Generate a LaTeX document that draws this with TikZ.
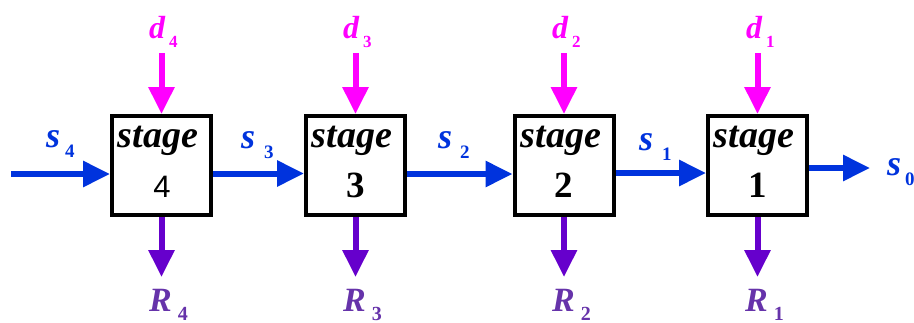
\documentclass[tikz,border=0pt]{standalone}
\usepackage{fontspec}
\setmainfont{Liberation Serif}
\newfontfamily\arialfont{Liberation Sans}
\usetikzlibrary{arrows.meta}
\definecolor{dcol}{HTML}{FF00FF}
\definecolor{scol}{HTML}{0033DD}
\definecolor{rarr}{HTML}{6600CC}
\definecolor{rtxt}{HTML}{6633AA}
\newcommand\lblsub[3]{\raisebox{#1}{\fontsize{#2}{#2}\selectfont\bfseries\upshape #3}}
\begin{document}
\begin{tikzpicture}[x=1pt,y=-1pt,
  stagebox/.style={draw=black,line width=4pt,minimum width=99pt,minimum height=99pt,inner sep=0pt,fill=white},
  flow/.style={line width=6pt,-{Triangle[length=27pt,width=25pt]}},
  darr/.style={flow,draw=dcol},
  sarr/.style={flow,draw=scol},
  rarrow/.style={flow,draw=rarr},
  stagetxt/.style={anchor=base,font=\fontsize{38}{38}\selectfont\bfseries\itshape},
  numtxt/.style={anchor=base,font=\fontsize{37}{37}\selectfont\bfseries},
  lbl/.style={anchor=base west,inner sep=0pt},
  dlbl/.style={lbl,text=dcol,font=\fontsize{32}{32}\selectfont\bfseries\itshape},
  slbl/.style={lbl,text=scol,font=\fontsize{36}{36}\selectfont\bfseries\itshape},
  rlbl/.style={lbl,text=rtxt,font=\fontsize{34}{34}\selectfont\bfseries\itshape}
]
\useasboundingbox (0,0) rectangle (914,322);
% boxes
\node[stagebox] (b4) at (161.5,165.5) {};
\node[stagebox] (b3) at (355.5,165.5) {};
\node[stagebox] (b2) at (564,165.5) {};
\node[stagebox] (b1) at (757.5,165.5) {};
% box texts
\node[stagetxt] (t4) at (158,147) {stage};
\node[stagetxt] (t3) at (352,147) {stage};
\node[stagetxt] (t2) at (561,147) {stage};
\node[stagetxt] (t1) at (754,147) {stage};
\node[anchor=base,font=\fontsize{31}{31}\selectfont\arialfont] (n4) at (162,197) {4};
\node[numtxt] (n3) at (356,197) {3};
\node[numtxt] (n2) at (564,197) {2};
\node[numtxt] (n1) at (757.5,197) {1};
% free ends
\coordinate (d4s) at (161.5,53);
\coordinate (d3s) at (355.5,53);
\coordinate (d2s) at (564,53);
\coordinate (d1s) at (757.5,53);
\coordinate (r4e) at (161.5,277);
\coordinate (r3e) at (355.5,277);
\coordinate (r2e) at (564,277);
\coordinate (r1e) at (757.5,277);
\coordinate (s4s) at (11,174);
\coordinate (s0e) at (870,168);
% d arrows
\draw[darr] (d4s) -- (b4.north);
\draw[darr] (d3s) -- (b3.north);
\draw[darr] (d2s) -- (b2.north);
\draw[darr] (d1s) -- (b1.north);
% R arrows
\draw[rarrow] (b4.south) -- (r4e);
\draw[rarrow] (b3.south) -- (r3e);
\draw[rarrow] (b2.south) -- (r2e);
\draw[rarrow] (b1.south) -- (r1e);
% s arrows
\draw[sarr] (s4s) -- ([yshift=-8.5pt]b4.west);
\draw[sarr] ([yshift=-8pt]b4.east) -- ([yshift=-8pt]b3.west);
\draw[sarr] ([yshift=-8.5pt]b3.east) -- ([yshift=-8.5pt]b2.west);
\draw[sarr] ([yshift=-7.5pt]b2.east) -- ([yshift=-7.5pt]b1.west);
\draw[sarr] ([yshift=-2.5pt]b1.east) -- (s0e);
% labels d
\node[dlbl] (ld4) at (149,38) {d\hspace{4pt}\lblsub{-9pt}{17}{4}};
\node[dlbl] (ld3) at (343,38) {d\hspace{4pt}\lblsub{-9pt}{17}{3}};
\node[dlbl] (ld2) at (552,38) {d\hspace{4pt}\lblsub{-9pt}{17}{2}};
\node[dlbl] (ld1) at (746,38) {d\hspace{4pt}\lblsub{-9pt}{17}{1}};
% labels R
\node[rlbl] (lr4) at (149,311) {R\hspace{6pt}\lblsub{-9pt}{20}{4}};
\node[rlbl] (lr3) at (343,311) {R\hspace{6pt}\lblsub{-9pt}{20}{3}};
\node[rlbl] (lr2) at (552,311) {R\hspace{6pt}\lblsub{-9pt}{20}{2}};
\node[rlbl] (lr1) at (745,311) {R\hspace{6pt}\lblsub{-9pt}{20}{1}};
% labels s
\node[slbl] (ls4) at (46,147) {s\hspace{5pt}\lblsub{-10pt}{19}{4}};
\node[slbl] (ls3) at (241,148) {s\hspace{9pt}\lblsub{-10pt}{19}{3}};
\node[slbl] (ls2) at (438,148) {s\hspace{8pt}\lblsub{-10pt}{19}{2}};
\node[slbl] (ls1) at (639,150) {s\hspace{9pt}\lblsub{-10pt}{19}{1}};
\node[slbl] (ls0) at (887,175) {s\hspace{4pt}\lblsub{-10pt}{19}{0}};
\end{tikzpicture}
\end{document}
